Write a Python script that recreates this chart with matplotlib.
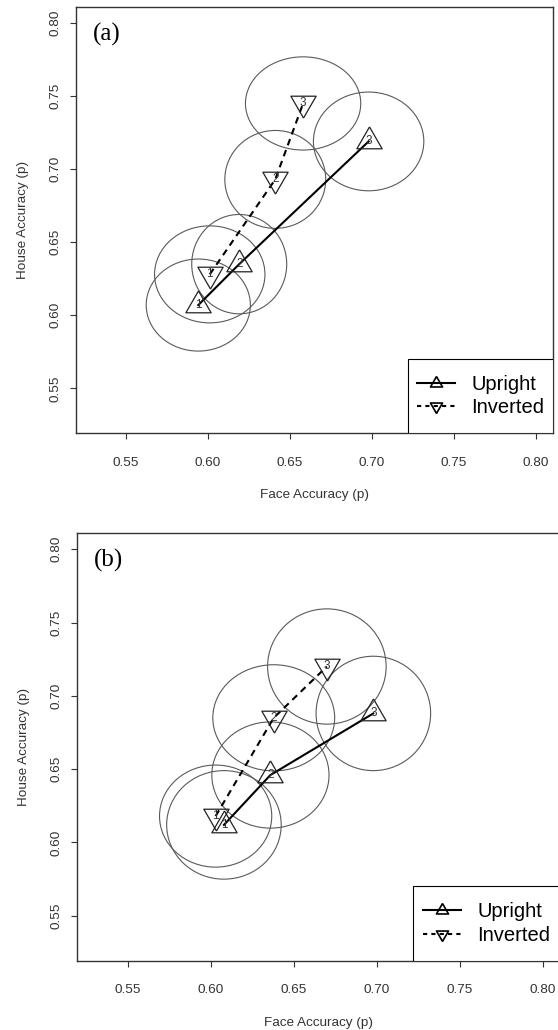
import numpy as np
import matplotlib
matplotlib.use('Agg')
import matplotlib.pyplot as plt
from matplotlib.patches import Ellipse, Rectangle
from matplotlib.lines import Line2D

plt.rcParams['font.family'] = 'Liberation Sans'

# Panel (a): mean accuracy per block (1..3) and ellipse radii
a_up_x = [0.594, 0.619, 0.698]
a_up_y = [0.607, 0.635, 0.719]
a_inv_x = [0.601, 0.641, 0.658]
a_inv_y = [0.628, 0.693, 0.745]
a_up_rx = [0.0318, 0.0290, 0.0337]
a_up_ry = [0.0315, 0.0340, 0.0338]
a_inv_rx = [0.0337, 0.0308, 0.0352]
a_inv_ry = [0.0332, 0.0335, 0.0319]

# Panel (b)
b_up_x = [0.608, 0.636, 0.698]
b_up_y = [0.612, 0.646, 0.688]
b_inv_x = [0.603, 0.638, 0.670]
b_inv_y = [0.618, 0.685, 0.720]
b_up_rx = [0.0345, 0.0353, 0.0345]
b_up_ry = [0.0370, 0.0362, 0.0390]
b_inv_rx = [0.0338, 0.0367, 0.0357]
b_inv_ry = [0.0348, 0.0362, 0.0393]

point_labels = ['1', '2', '3']
ticks = [0.55, 0.60, 0.65, 0.70, 0.75, 0.80]
series_names = ['Upright', 'Inverted']

# R-style triangles (point sits at the centroid)
s3 = np.sqrt(3)
up_tri = [(0, 2), (-s3, -1), (s3, -1), (0, 2)]
down_tri = [(0, -2), (-s3, 1), (s3, 1), (0, -2)]

axis_col = '#333333'


def draw_panel(ax, up_x, up_y, inv_x, inv_y, up_rx, up_ry, inv_rx, inv_ry, tag):
    # ellipses first
    for x, y, rx, ry in zip(up_x + inv_x, up_y + inv_y, up_rx + inv_rx, up_ry + inv_ry):
        ax.add_patch(Ellipse((x, y), 2 * rx, 2 * ry, fill=False,
                             edgecolor='#5a5a5a', lw=0.8))
    ax.plot(up_x, up_y, color='black', lw=1.5, ls='-')
    ax.plot(inv_x, inv_y, color='black', lw=1.5, ls=(0, (3.2, 2.4)))
    ax.plot(up_x, up_y, ls='none', marker=up_tri, ms=21, mfc='none',
            mec='#222222', mew=0.9)
    ax.plot(inv_x, inv_y, ls='none', marker=down_tri, ms=21, mfc='none',
            mec='#222222', mew=0.9)
    for x, y, t in zip(up_x + inv_x, up_y + inv_y, point_labels + point_labels):
        ax.text(x, y, t, fontsize=8.5, color='#333333', ha='center', va='center')

    ax.set_xlim(0.5192, 0.8108)
    ax.set_ylim(0.5192, 0.8108)
    ax.set_xticks(ticks)
    ax.set_yticks(ticks)
    ax.set_xticklabels(['%.2f' % t for t in ticks])
    ax.set_yticklabels(['%.2f' % t for t in ticks], rotation=90, va='center')
    ax.tick_params(length=4.5, width=0.8, color=axis_col, labelsize=9.7,
                   labelcolor=axis_col)
    ax.tick_params(axis='x', pad=12.4)
    ax.tick_params(axis='y', pad=5.5)
    for sp in ax.spines.values():
        sp.set_color(axis_col)
        sp.set_linewidth(1.0)
    ax.set_xlabel('Face Accuracy (p)', fontsize=9.7, color=axis_col, labelpad=14.6)
    ax.set_ylabel('House Accuracy (p)', fontsize=9.7, color=axis_col, labelpad=14.7)

    ax.text(0.035, 0.937, tag, transform=ax.transAxes, fontsize=18,
            family='Liberation Serif', ha='left', va='center')

    # legend box in the lower right corner, R style
    box = (0.695, 0.0, 0.305, 0.175)
    ax.add_patch(Rectangle(box[:2], box[2], box[3], transform=ax.transAxes,
                           facecolor='white', edgecolor='black', lw=0.8,
                           zorder=4))
    handles = [
        Line2D([], [], color='black', lw=1.5, marker=up_tri, ms=10,
               mfc='none', mec='black', mew=1.2),
        Line2D([], [], color='black', lw=1.5, ls=(0, (2, 2)), marker=down_tri,
               ms=10, mfc='none', mec='black', mew=1.2),
    ]
    ax.legend(handles, series_names, loc='center', bbox_to_anchor=box,
              frameon=False, fontsize=14.5, handlelength=1.9,
              handletextpad=0.8, borderpad=0, labelspacing=0.22)


fig = plt.figure(figsize=(5.58, 10.30), dpi=100)
ax1 = fig.add_axes([0.1358, 0.5793, 0.8559, 0.4136])
ax2 = fig.add_axes([0.1371, 0.0670, 0.8676, 0.4152])

draw_panel(ax1, a_up_x, a_up_y, a_inv_x, a_inv_y,
           a_up_rx, a_up_ry, a_inv_rx, a_inv_ry, '(a)')
draw_panel(ax2, b_up_x, b_up_y, b_inv_x, b_inv_y,
           b_up_rx, b_up_ry, b_inv_rx, b_inv_ry, '(b)')

fig.savefig('out.png', dpi=100)
